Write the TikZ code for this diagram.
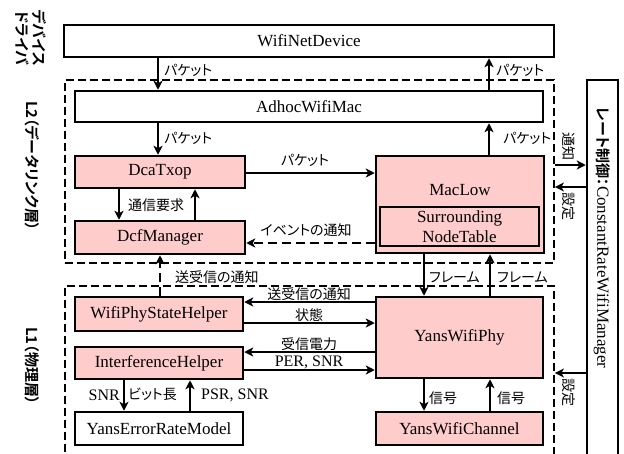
\documentclass[tikz,border=0pt]{standalone}
\usepackage{fontspec}
\setmainfont{Liberation Serif}
\newfontfamily\jp[RawFeature=+palt,BoldFont={Noto Sans CJK JP Bold}]{Noto Sans CJK JP}
\usetikzlibrary{arrows.meta}
\definecolor{boxpink}{RGB}{255,204,204}
\begin{document}
\begin{tikzpicture}[x=1pt,y=-1pt,
  box/.style={draw, line width=2.5pt, fill=white, inner sep=0pt, font=\fontsize{17}{19}\selectfont},
  pbox/.style={box, fill=boxpink},
  arr/.style={line width=2pt, -{Stealth[length=9pt,width=9pt,inset=2.5pt]}},
  darr/.style={arr, dash pattern=on 9pt off 5pt},
  region/.style={draw, line width=1.8pt, dash pattern=on 8pt off 4pt, inner sep=0pt},
  lab/.style={font=\jp\fontsize{14}{16}\selectfont, inner sep=1pt},
  slab/.style={font=\fontsize{16}{18}\selectfont, inner sep=1pt},
  side/.style={font=\jp\bfseries\fontsize{15}{17}\selectfont, rotate=-90, align=center, inner sep=0pt}]
\useasboundingbox (0,0) rectangle (624,453);

% regions
\node[region, minimum width=489pt, minimum height=183pt] (L2) at (309.5,171.5) {};
\node[region, minimum width=489pt, minimum height=184pt] (L1) at (309.5,378) {};

% boxes
\node[box, minimum width=490pt, minimum height=32pt] (dev) at (309,41) {WifiNetDevice};
\node[box, minimum width=468pt, minimum height=31pt] (mac) at (309,106.5) {AdhocWifiMac};
\node[pbox, minimum width=170pt, minimum height=32pt] (dca) at (160,172) {DcaTxop};
\node[pbox, minimum width=170pt, minimum height=33pt] (dcf) at (160,237.5) {DcfManager};
\node[pbox, minimum width=168pt, minimum height=97pt] (maclow) at (460,204.5) {};
\node[font=\fontsize{17}{19}\selectfont, inner sep=0pt] (maclowtxt) at (460,190) {MacLow};
\node[pbox, minimum width=159pt, minimum height=39pt, align=center, font=\fontsize{17}{20}\selectfont] (snt) at (459.5,226.5) {Surrounding\\NodeTable};
\node[pbox, minimum width=168pt, minimum height=34pt] (wpsh) at (159,314) {WifiPhyStateHelper};
\node[pbox, minimum width=168pt, minimum height=32pt] (ih) at (159,363) {InterferenceHelper};
\node[box, minimum width=168pt, minimum height=33pt] (erm) at (159,428.5) {YansErrorRateModel};
\node[pbox, minimum width=167pt, minimum height=81pt] (phy) at (459.5,337.5) {YansWifiPhy};
\node[pbox, minimum width=167pt, minimum height=33pt] (chan) at (459.5,428.5) {YansWifiChannel};
\node[box, minimum width=31pt, minimum height=390pt] (rate) at (602.5,275) {};
\node[rotate=-90, inner sep=0pt] (ratetxt) at (602,238) {{\jp\bfseries\fontsize{15}{17}\selectfont レート制御：}{\fontsize{17}{19}\selectfont ConstantRateWifiManager}};

% side labels
\node[side] (sdev) at (31,38) {デバイス\\ドライバ};
\node[side] (sl2) at (32,166) {L2（データリンク層）};
\node[side] (sl1) at (32,366) {L1（物理層）};

% device <-> mac
\draw[arr] (158,0 |- dev.south) -- (158,0 |- mac.north);
\node[lab, anchor=west] (l1) at (163,70) {パケット};
\draw[arr] (489,0 |- mac.north) -- (489,0 |- dev.south);
\node[lab, anchor=west] (l2) at (495,70) {パケット};
% mac <-> dca / maclow
\draw[arr] (158,0 |- mac.south) -- (158,0 |- dca.north);
\node[lab, anchor=west] (l3) at (163,138) {パケット};
\draw[arr] (489,0 |- maclow.north) -- (489,0 |- mac.south);
\node[lab, anchor=west] (l4) at (502,138) {パケット};
% dca <-> dcf
\draw[arr] (119,0 |- dca.south) -- (119,0 |- dcf.north);
\draw[arr] (195,0 |- dcf.north) -- (195,0 |- dca.south);
\node[lab] (l5) at (156,205) {通信要求};
% dca -> maclow
\draw[arr] (dca.east |- 0,173) -- (maclow.west |- 0,173);
\node[lab] (l6) at (305,160) {パケット};
% maclow -> dcf dashed
\draw[darr] (maclow.west |- 0,243) -- (dcf.east |- 0,243);
\node[lab] (l7) at (306,230) {イベントの通知};
% wpsh -> dcf dashed
\draw[darr] (160,0 |- wpsh.north) -- (160,0 |- dcf.south);
\node[lab, anchor=west] (l8) at (174,277) {送受信の通知};
% maclow <-> phy
\draw[arr] (424,0 |- maclow.south) -- (424,0 |- phy.north);
\node[lab, anchor=west] (l9) at (428,277) {フレーム};
\draw[arr] (490,0 |- phy.north) -- (490,0 |- maclow.south);
\node[lab, anchor=west] (l10) at (496,277) {フレーム};
% phy <-> helpers
\draw[arr] (phy.west |- 0,302) -- (wpsh.east |- 0,302);
\node[lab, anchor=south] (l11) at (309,302) {送受信の通知};
\draw[arr] (wpsh.east |- 0,323) -- (phy.west |- 0,323);
\node[lab, anchor=south] (l12) at (309,323) {状態};
\draw[arr] (phy.west |- 0,352) -- (ih.east |- 0,352);
\node[lab, anchor=south] (l13) at (309,352) {受信電力};
\draw[arr] (ih.east |- 0,370) -- (phy.west |- 0,370);
\node[slab, anchor=south] (l14) at (309,370) {PER, SNR};
% ih <-> erm
\draw[arr] (124,0 |- ih.south) -- (124,0 |- erm.north);
\node[slab, anchor=east] (l15) at (121,395) {SNR};
\node[lab, anchor=west] (l16) at (127,394) {ビット長};
\draw[arr] (190,0 |- erm.north) -- (190,0 |- ih.south);
\node[slab, anchor=west] (l17) at (200,395) {PSR, SNR};
% phy <-> channel
\draw[arr] (424,0 |- phy.south) -- (424,0 |- chan.north);
\node[lab, anchor=west] (l18) at (428,398) {信号};
\draw[arr] (490,0 |- chan.north) -- (490,0 |- phy.south);
\node[lab, anchor=west] (l19) at (496,398) {信号};
% rate control
\draw[arr] (L2.east |- 0,165) -- (rate.west |- 0,165);
\node[lab, rotate=-90] (l20) at (569,146) {通知};
\draw[arr] (rate.west |- 0,187) -- (L2.east |- 0,187);
\node[lab, rotate=-90] (l21) at (569,206) {設定};
\draw[arr] (rate.west |- 0,373) -- (L1.east |- 0,373);
\node[lab, rotate=-90] (l22) at (569,392) {設定};
\end{tikzpicture}
\end{document}
